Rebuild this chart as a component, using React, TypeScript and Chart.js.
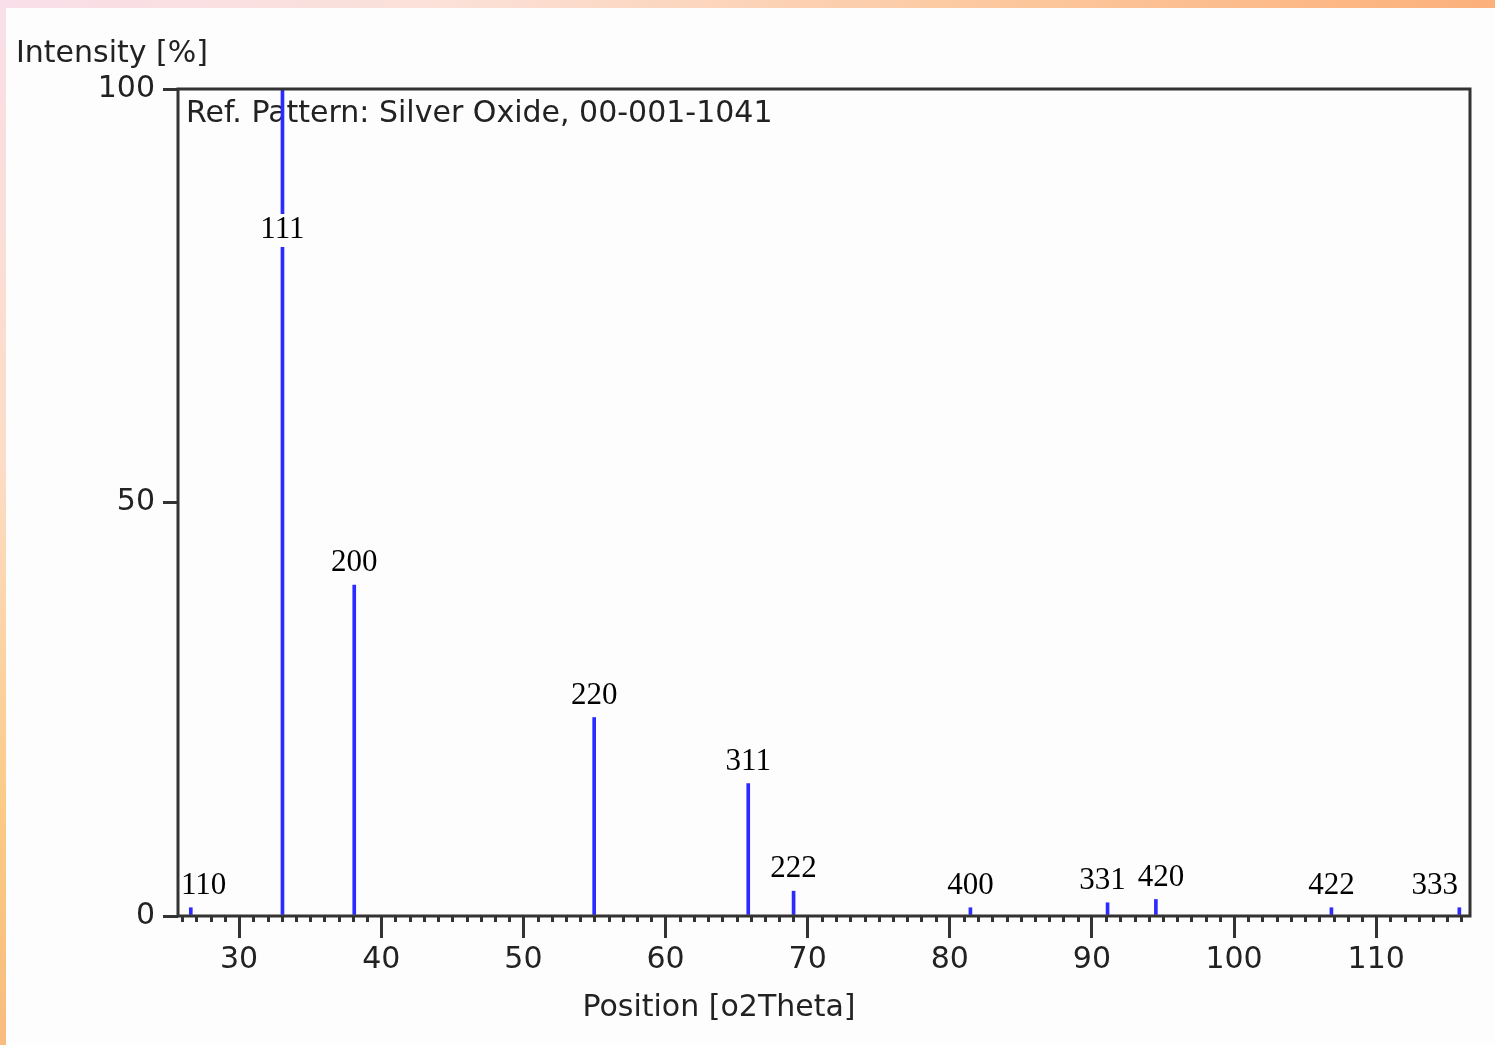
import React, { useEffect, useRef } from "react";
import { Chart, registerables } from "chart.js";

Chart.register(...registerables);

// ---- data ----
const peakPositions = [26.6, 33.05, 38.1, 54.98, 65.82, 69.01, 81.45, 91.1, 94.5, 106.85, 115.85];
const peakIntensities = [1, 100, 40, 24, 16, 3, 1, 1.6, 2, 1, 1];
const peakLabels = ["110", "111", "200", "220", "311", "222", "400", "331", "420", "422", "333"];
const xRange = [25.7, 116.6];
const yRange = [0, 100];
const xStep = 10;
const yStep = 50;
const yTitle = "Intensity [%]";
const xTitle = "Position [o2Theta]";
const patternTitle = "Ref. Pattern: Silver Oxide, 00-001-1041";

const BLUE = "#2b2bff";
const AXIS = "#333333";
const TEXT = "#222222";
const SANS = "'DejaVu Sans', sans-serif";
const SERIF = "'Liberation Serif', serif";

const decorPlugin = {
  id: "decor",
  beforeDatasetsDraw(chart: any) {
    const { ctx, chartArea } = chart;
    ctx.save();
    ctx.fillStyle = TEXT;
    ctx.font = `30px ${SANS}`;
    ctx.textBaseline = "middle";
    ctx.textAlign = "left";
    ctx.fillText(patternTitle, chartArea.left + 8, chartArea.top + 25);
    ctx.restore();
  },
  afterDatasetsDraw(chart: any) {
    const { ctx, chartArea, scales } = chart;
    const xs = scales.x;
    const ys = scales.y;
    ctx.save();
    ctx.font = `31px ${SERIF}`;
    ctx.textBaseline = "middle";
    ctx.textAlign = "center";
    const items = peakLabels.map((lab, i) => {
      const px = xs.getPixelForValue(peakPositions[i]);
      const top = ys.getPixelForValue(peakIntensities[i]);
      const w = ctx.measureText(lab).width;
      let cx = px;
      if (cx - w / 2 < chartArea.left + 3) cx = chartArea.left + 3 + w / 2;
      if (cx + w / 2 > chartArea.right - 12) cx = chartArea.right - 12 - w / 2;
      let cy = top - 22;
      let boxed = false;
      if (cy < chartArea.top + 40) {
        cy = chartArea.top + 141;
        boxed = true;
      }
      return { lab, cx, cy, w, boxed };
    });
    // separate overlapping neighbours
    const gap = 12;
    for (let i = 1; i < items.length; i++) {
      const a = items[i - 1];
      const b = items[i];
      const overlap = a.cx + a.w / 2 + gap - (b.cx - b.w / 2);
      if (overlap > 0 && Math.abs(a.cy - b.cy) < 30) {
        a.cx -= overlap / 2;
        b.cx += overlap / 2;
      }
    }
    items.forEach(({ lab, cx, cy, w, boxed }) => {
      if (boxed) {
        ctx.fillStyle = "#fdfdfd";
        ctx.fillRect(cx - w / 2 - 2, cy - 16, w + 4, 33);
      }
      ctx.fillStyle = "#000";
      ctx.fillText(lab, cx, cy);
    });
    ctx.restore();
  },
  afterDraw(chart: any) {
    const { ctx, chartArea, scales } = chart;
    const xs = scales.x;
    ctx.save();
    // minor ticks
    ctx.strokeStyle = AXIS;
    ctx.lineWidth = 3;
    for (let v = Math.ceil(xRange[0]); v <= Math.floor(xRange[1]); v++) {
      if (v % xStep === 0) continue;
      const px = Math.round(xs.getPixelForValue(v)) + 0.5;
      ctx.beginPath();
      ctx.moveTo(px, chartArea.bottom);
      ctx.lineTo(px, chartArea.bottom + 6);
      ctx.stroke();
    }
    // frame
    ctx.lineWidth = 3;
    ctx.strokeStyle = AXIS;
    ctx.strokeRect(chartArea.left, chartArea.top, chartArea.right - chartArea.left, chartArea.bottom - chartArea.top);
    // titles
    ctx.fillStyle = TEXT;
    ctx.font = `30px ${SANS}`;
    ctx.textBaseline = "middle";
    ctx.textAlign = "left";
    ctx.fillText(yTitle, 16, 54);
    ctx.textAlign = "center";
    ctx.fillText(xTitle, 719, 1008);
    ctx.restore();
  },
};

export default function App() {
  const ref = useRef<HTMLCanvasElement | null>(null);

  useEffect(() => {
    document.body.style.margin = "0";
    const canvas = ref.current!;
    canvas.width = 1495;
    canvas.height = 1045;
    const chart = new Chart(canvas, {
      type: "bar",
      data: {
        datasets: [
          {
            data: peakPositions.map((x, i) => ({ x, y: peakIntensities[i] })),
            backgroundColor: BLUE,
            borderWidth: 0,
            barThickness: 3,
          },
        ],
      },
      options: {
        responsive: false,
        animation: false,
        devicePixelRatio: 1,
        layout: { padding: { left: 0, top: 89, right: 25, bottom: 0 } },
        plugins: {
          legend: { display: false },
          tooltip: { enabled: false },
          title: { display: false },
        },
        scales: {
          x: {
            type: "linear",
            min: xRange[0],
            max: xRange[1],
            offset: false,
            border: { display: false },
            grid: {
              offset: false,
              drawOnChartArea: false,
              drawTicks: true,
              tickLength: 22,
              tickWidth: 3,
              lineWidth: 3,
              tickColor: AXIS,
            },
            ticks: {
              stepSize: xStep,
              includeBounds: false,
              autoSkip: false,
              maxRotation: 0,
              padding: 4,
              color: TEXT,
              font: { family: SANS, size: 30 },
            },
            afterFit(s: any) {
              s.height = 129;
            },
          },
          y: {
            min: yRange[0],
            max: yRange[1],
            border: { display: false },
            grid: {
              drawOnChartArea: false,
              drawTicks: true,
              tickLength: 15,
              tickWidth: 3,
              lineWidth: 3,
              tickColor: AXIS,
            },
            ticks: {
              stepSize: yStep,
              padding: 8,
              color: TEXT,
              font: { family: SANS, size: 30 },
            },
            afterFit(s: any) {
              s.width = 178;
            },
          },
        },
      } as any,
      plugins: [decorPlugin],
    });
    return () => chart.destroy();
  }, []);

  return (
    <div style={{ position: "relative", width: 1495, height: 1045, background: "#fdfdfd", overflow: "hidden" }}>
      <div
        style={{
          position: "absolute",
          left: 0,
          top: 0,
          width: 1495,
          height: 8,
          background: "linear-gradient(to right, #f9dfe9 0%, #fbe1d8 30%, #fcc9a0 65%, #fcb07a 100%)",
        }}
      />
      <div
        style={{
          position: "absolute",
          left: 0,
          top: 0,
          width: 6,
          height: 1045,
          background: "linear-gradient(to bottom, #f9dfe9 0%, #fcdcc4 45%, #fbca85 78%, #f8bc7e 100%)",
        }}
      />
      <canvas ref={ref} style={{ position: "absolute", left: 0, top: 0, width: 1495, height: 1045 }} />
    </div>
  );
}
